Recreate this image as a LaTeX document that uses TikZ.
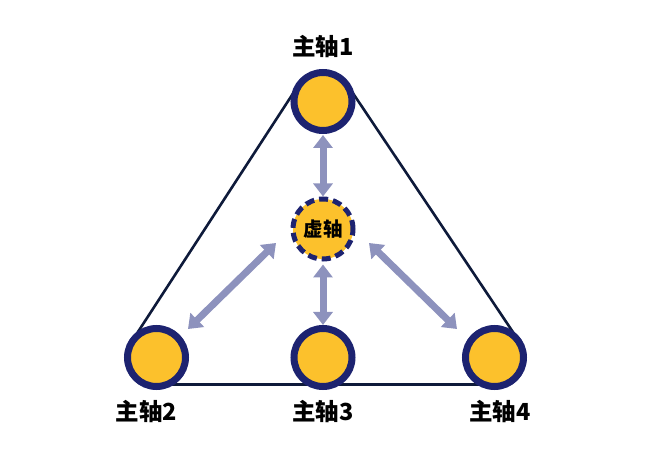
\documentclass[tikz,border=0pt]{standalone}
\usepackage{fontspec}
\newfontfamily\cjk{Noto Sans CJK SC}
\usepackage{tikz}
\usetikzlibrary{arrows.meta,calc,positioning,backgrounds}
\definecolor{gold}{HTML}{FCC12C}
\definecolor{navy}{HTML}{1D2370}
\definecolor{ink}{HTML}{0E1A3A}
\definecolor{lilac}{HTML}{8D92BD}

\begin{document}
\begin{tikzpicture}[x=1pt,y=1pt,
  axis/.style={circle,fill=gold,draw=navy,line width=7pt,minimum size=58pt,inner sep=0pt},
  virt/.style={axis,line width=5pt,minimum size=60pt,dash pattern=on 9pt off 5pt},
  lab/.style={font=\cjk\bfseries\fontsize{23.5}{23.5}\selectfont,inner sep=0pt},
  biarrow/.style={draw=lilac,line width=7pt,{Triangle[width=19pt,length=13pt]}-{Triangle[width=19pt,length=13pt]}},
  edge/.style={draw=ink,line width=2.6pt}]
  \useasboundingbox (0,0) rectangle (651,464);
  % axes
  \node[axis] (a1) at (323,362.5) {};
  \node[axis] (a2) at (156.5,106.5) {};
  \node[axis] (a3) at (323,106.5) {};
  \node[axis] (a4) at (494.5,106.5) {};
  \node[virt] (v) at (323,235) {\cjk\bfseries\fontsize{19.5}{19.5}\selectfont 虚轴};
  \node[lab] (t1) at (323,417) {主轴1};
  \node[lab] (t2) at (146.5,52) {主轴2};
  \node[lab] (t3) at (323,52) {主轴3};
  \node[lab] (t4) at (500,52) {主轴4};
  % frame
  \begin{scope}[on background layer]
    \draw[edge] ($(a1)!29.5pt!-90:(a2)$) -- ($(a2)!29.5pt!90:(a1)$);
    \draw[edge] ($(a1)!29.5pt!90:(a4)$) -- ($(a4)!29.5pt!-90:(a1)$);
    \draw[edge] ($(a2)!27pt!-90:(a4)$) -- ($(a4)!27pt!90:(a2)$);
  \end{scope}
  % links
  \draw[biarrow,shorten <=1pt] (a1.south) -- (v.north);
  \draw[biarrow,shorten <=3pt] (v.south) -- (a3.north);
  \draw[biarrow] ([shift={(-47,-14)}]v.center) -- ([shift={(31.5,28.5)}]a2.center);
  \draw[biarrow] ([shift={(46,-14)}]v.center) -- ([shift={(-37.5,28.5)}]a4.center);
\end{tikzpicture}
\end{document}
